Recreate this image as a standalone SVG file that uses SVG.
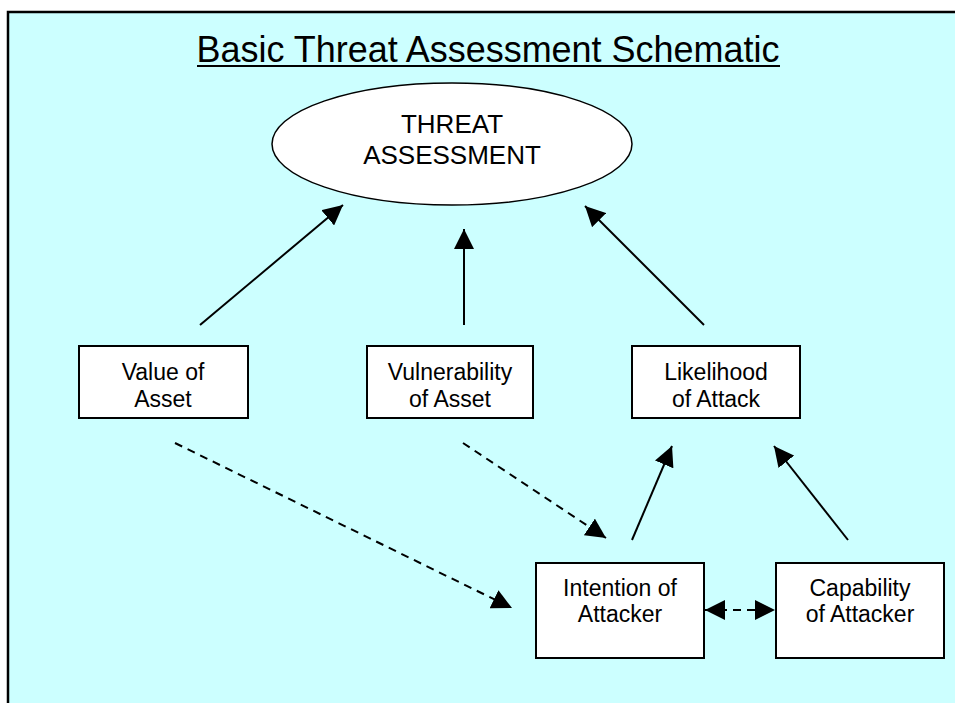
<svg xmlns="http://www.w3.org/2000/svg" width="955" height="703" viewBox="0 0 955 703">
<style>
.box{fill:#fff;stroke:#000;stroke-width:2}
.t{font-family:"Liberation Sans",Arial,sans-serif;font-size:23px;fill:#000;text-anchor:middle}
.e{font-size:26px}
.c{stroke:#000;stroke-width:2;fill:none}
.d{stroke-dasharray:8,6}
</style>
<defs>
<marker id="ah" markerUnits="userSpaceOnUse" markerWidth="20" markerHeight="20" refX="20" refY="10" orient="auto">
<path d="M0,0 L20,10 L0,20 z" fill="#000"/>
</marker>
<marker id="ahs" markerUnits="userSpaceOnUse" markerWidth="20" markerHeight="20" refX="0" refY="10" orient="auto">
<path d="M20,0 L0,10 L20,20 z" fill="#000"/>
</marker>
</defs>
<rect x="8" y="12" width="1000" height="750" fill="#CCFFFF" stroke="#000" stroke-width="2.5"/>
<g id="title">
<text x="488" y="62" font-family="'Liberation Sans Narrow','Liberation Sans',Arial,sans-serif" font-size="36" text-anchor="middle" textLength="583" lengthAdjust="spacingAndGlyphs">Basic Threat Assessment Schematic</text>
<line x1="197" y1="66" x2="780" y2="66" stroke="#000" stroke-width="2"/>
</g>
<g id="threat">
<ellipse cx="452" cy="144" rx="180" ry="61" fill="#fff" stroke="#000" stroke-width="1.5"/>
<text class="t e" x="452" y="133">THREAT</text>
<text class="t e" x="452" y="164">ASSESSMENT</text>
</g>
<g id="value">
<rect class="box" x="79" y="346" width="169" height="72"/>
<text class="t" x="163" y="380">Value of</text>
<text class="t" x="163" y="407">Asset</text>
</g>
<g id="vulnerability">
<rect class="box" x="367" y="346" width="166" height="72"/>
<text class="t" x="450" y="380">Vulnerability</text>
<text class="t" x="450" y="407">of Asset</text>
</g>
<g id="likelihood">
<rect class="box" x="632" y="346" width="168" height="72"/>
<text class="t" x="716" y="380">Likelihood</text>
<text class="t" x="716" y="407">of Attack</text>
</g>
<g id="intention">
<rect class="box" x="536" y="563" width="168" height="95"/>
<text class="t" x="620" y="596">Intention of</text>
<text class="t" x="620" y="622">Attacker</text>
</g>
<g id="capability">
<rect class="box" x="776" y="563" width="168" height="95"/>
<text class="t" x="860" y="596">Capability</text>
<text class="t" x="860" y="622">of Attacker</text>
</g>
<g id="connectors">
<line class="c" x1="200" y1="325" x2="343" y2="205" marker-end="url(#ah)"/>
<line class="c" x1="464" y1="325" x2="464" y2="229" marker-end="url(#ah)"/>
<line class="c" x1="704" y1="325" x2="585" y2="206" marker-end="url(#ah)"/>
<line class="c d" x1="175" y1="443" x2="512" y2="608" marker-end="url(#ah)"/>
<line class="c d" x1="463" y1="443" x2="606" y2="538" marker-end="url(#ah)"/>
<line class="c" x1="632" y1="540" x2="672" y2="446" marker-end="url(#ah)"/>
<line class="c" x1="848" y1="540" x2="774" y2="446" marker-end="url(#ah)"/>
<line class="c d" x1="705" y1="610" x2="775" y2="610" stroke-dasharray="6,6" marker-start="url(#ahs)" marker-end="url(#ah)"/>
</g>
</svg>
